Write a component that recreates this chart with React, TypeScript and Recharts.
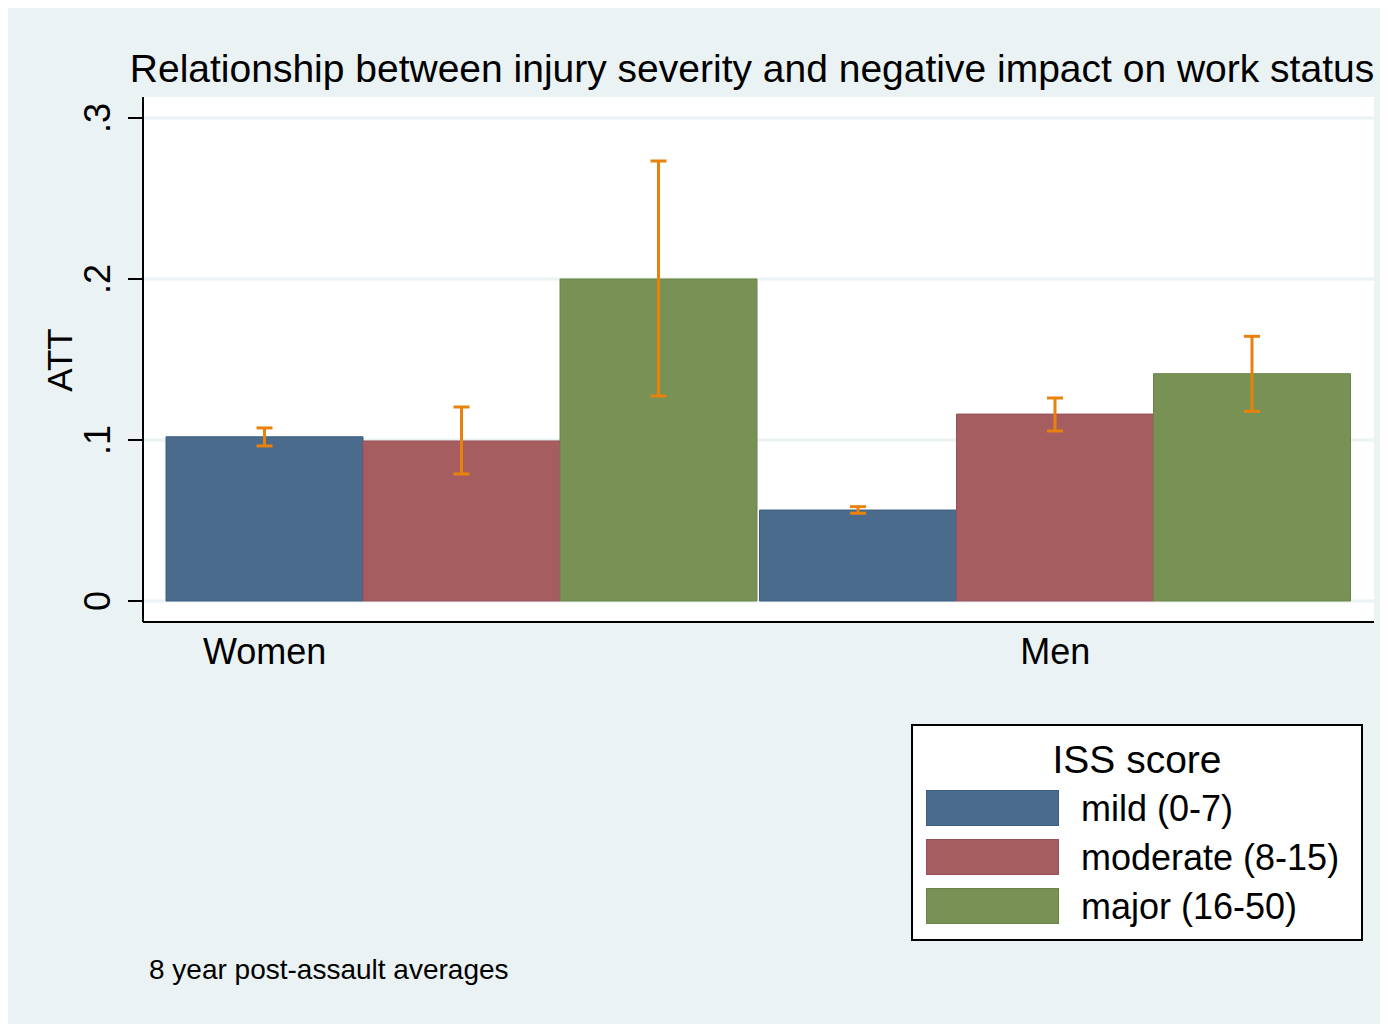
import React from 'react';
import { BarChart, Bar, XAxis, YAxis, CartesianGrid, ErrorBar } from 'recharts';

// Average treatment effect on work status by ISS injury-severity class, 8-year post-assault window
const categories = ['Women', 'Men'];
const mild = [0.102, 0.0565];
const mildLow = [0.0963, 0.0545];
const mildHigh = [0.1075, 0.0586];
const moderate = [0.0994, 0.1161];
const moderateLow = [0.0789, 0.1056];
const moderateHigh = [0.1205, 0.1261];
const major = [0.2, 0.1412];
const majorLow = [0.1273, 0.1178];
const majorHigh = [0.2733, 0.1644];

const yTicks = [0, 0.1, 0.2, 0.3];
const yTickLabels = ['0', '.1', '.2', '.3'];
// which bar of the group each category label sits under (0 = first bar)
const labelUnderBar = [0, 1];

const seriesNames = ['mild (0-7)', 'moderate (8-15)', 'major (16-50)'];
const seriesFill = ['#4A6B8C', '#A55D60', '#789155'];
const seriesStroke = ['#3D5E80', '#98505A', '#6B8549'];
const errColor = '#E8820C';
const bgColor = '#EAF2F3';

const data = categories.map((c, i) => ({
  name: c,
  mild: mild[i],
  moderate: moderate[i],
  major: major[i],
  mildErr: [mild[i] - mildLow[i], mildHigh[i] - mild[i]],
  moderateErr: [moderate[i] - moderateLow[i], moderateHigh[i] - moderate[i]],
  majorErr: [major[i] - majorLow[i], majorHigh[i] - major[i]],
}));

const W = 1380;
const H = 1016;
const M = { top: 89, right: 14, bottom: 342, left: 0 };
const Y_AXIS_W = 135;
const X_AXIS_H = 60;
const X_PAD = 22;
const CAT_GAP = 1;
const PLOT_W = W - M.left - M.right - Y_AXIS_W;
const BAND = (PLOT_W - 2 * X_PAD) / categories.length;
const BAR_W = (BAND - 2 * CAT_GAP) / 3;

const FONT = '"Liberation Sans", Arial, Helvetica, sans-serif';

const XTick = (props: any) => {
  const { x, y, payload } = props;
  const idx = payload.index ?? categories.indexOf(payload.value);
  const shift = (labelUnderBar[idx] - 1) * BAR_W;
  return (
    <text x={x + shift} y={y + 34} textAnchor="middle" fontSize={36} fontFamily={FONT} fill="#000">
      {payload.value}
    </text>
  );
};

const YTick = (props: any) => {
  const { x, y, payload } = props;
  const i = yTicks.indexOf(payload.value);
  const label = i >= 0 ? yTickLabels[i] : String(payload.value);
  const tx = x - 2;
  return (
    <text
      x={tx}
      y={y}
      transform={`rotate(-90, ${tx}, ${y})`}
      textAnchor="middle"
      fontSize={36}
      fontFamily={FONT}
      fill="#000"
    >
      {label}
    </text>
  );
};

// Legend panel, placed at the lower right of the figure
const LegendBox = ({ x, y }: { x: number; y: number }) => (
  <g transform={`translate(${x}, ${y})`}>
    <rect x={1} y={1} width={450} height={215} fill="#fff" stroke="#000" strokeWidth={2} />
    <text x={226} y={49} textAnchor="middle" fontSize={39} fontFamily={FONT} fill="#000">
      ISS score
    </text>
    {seriesNames.map((n, i) => (
      <g key={n}>
        <rect
          x={15.5}
          y={66.5 + i * 49}
          width={132}
          height={35}
          fill={seriesFill[i]}
          stroke={seriesStroke[i]}
          strokeWidth={1}
        />
        <text x={170} y={97 + i * 49} fontSize={36} fontFamily={FONT} fill="#000">
          {n}
        </text>
      </g>
    ))}
  </g>
);

export default function App() {
  return (
    <div style={{ position: 'relative', width: W, height: H, background: bgColor }}>
      <BarChart
        width={W}
        height={H}
        data={data}
        margin={M}
        barCategoryGap={CAT_GAP}
        barGap={0}
      >
        <CartesianGrid
          horizontal
          vertical={false}
          fill="#fff"
          stroke={bgColor}
          strokeWidth={3}
          horizontalValues={yTicks}
        />
        <XAxis
          dataKey="name"
          height={X_AXIS_H}
          padding={{ left: X_PAD, right: X_PAD }}
          tickLine={false}
          axisLine={{ stroke: '#000', strokeWidth: 2 }}
          tick={<XTick />}
          interval={0}
        />
        <YAxis
          width={Y_AXIS_W}
          domain={[-0.01304, 0.31304]}
          allowDataOverflow
          ticks={yTicks}
          tickSize={15}
          tickMargin={16}
          tickLine={{ stroke: '#000', strokeWidth: 2 }}
          axisLine={{ stroke: '#000', strokeWidth: 2 }}
          tick={<YTick />}
        />
        <Bar dataKey="mild" name={seriesNames[0]} fill={seriesFill[0]} stroke={seriesStroke[0]} strokeWidth={1} isAnimationActive={false}>
          <ErrorBar dataKey="mildErr" direction="y" width={8} strokeWidth={3} stroke={errColor} />
        </Bar>
        <Bar dataKey="moderate" name={seriesNames[1]} fill={seriesFill[1]} stroke={seriesStroke[1]} strokeWidth={1} isAnimationActive={false}>
          <ErrorBar dataKey="moderateErr" direction="y" width={8} strokeWidth={3} stroke={errColor} />
        </Bar>
        <Bar dataKey="major" name={seriesNames[2]} fill={seriesFill[2]} stroke={seriesStroke[2]} strokeWidth={1} isAnimationActive={false}>
          <ErrorBar dataKey="majorErr" direction="y" width={8} strokeWidth={3} stroke={errColor} />
        </Bar>
      </BarChart>
      <svg
        width={W}
        height={H}
        style={{ position: 'absolute', left: 0, top: 0, pointerEvents: 'none' }}
      >
        <text x={744} y={74} textAnchor="middle" fontSize={39} fontFamily={FONT} fill="#000">
          Relationship between injury severity and negative impact on work status
        </text>
        <text
          x={64}
          y={352}
          transform="rotate(-90, 64, 352)"
          textAnchor="middle"
          fontSize={35}
          fontFamily={FONT}
          fill="#000"
        >
          ATT
        </text>
        <text x={141} y={971} fontSize={28} fontFamily={FONT} fill="#000">
          8 year post-assault averages
        </text>
        <LegendBox x={903} y={716} />
      </svg>
    </div>
  );
}
